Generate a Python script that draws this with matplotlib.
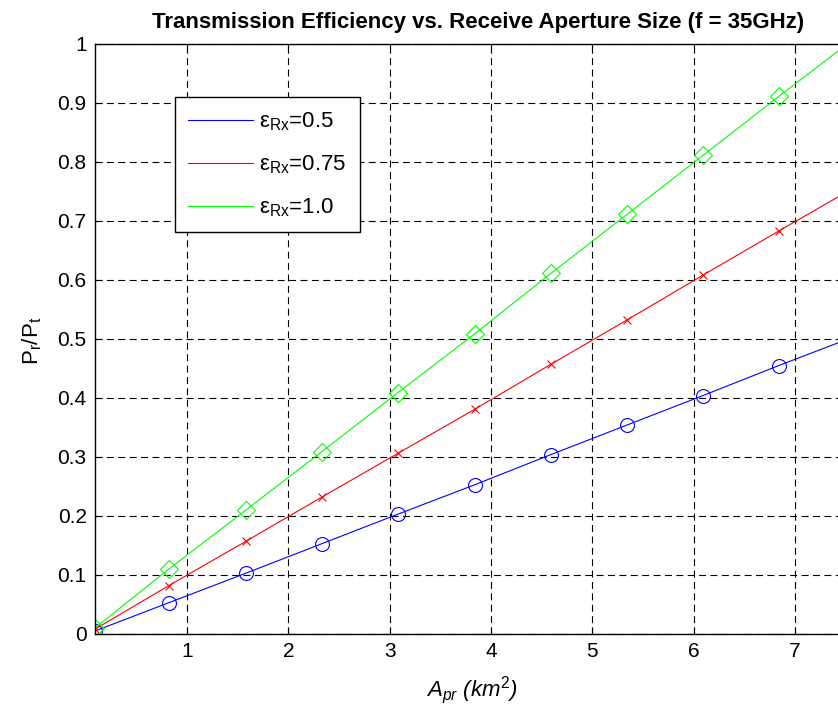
import matplotlib
matplotlib.use('Agg')
import matplotlib.pyplot as plt

plt.rcParams['font.family'] = ['Liberation Sans', 'DejaVu Sans']
plt.rcParams['mathtext.fontset'] = 'custom'
plt.rcParams['mathtext.rm'] = 'Liberation Sans'
plt.rcParams['mathtext.it'] = 'Liberation Sans:italic'
plt.rcParams['lines.scale_dashes'] = False

# aperture size (km^2) at each marker, last point runs off the right edge
area = [0.09, 0.82, 1.58, 2.33, 3.08, 3.84, 4.59, 5.34, 6.09, 6.84, 7.60]
eff_05 = [0.005, 0.053, 0.103, 0.153, 0.203, 0.253, 0.304, 0.354, 0.404, 0.455, 0.505]
eff_075 = [0.008, 0.082, 0.157, 0.232, 0.306, 0.381, 0.457, 0.532, 0.608, 0.683, 0.758]
eff_10 = [0.010, 0.110, 0.210, 0.309, 0.409, 0.509, 0.611, 0.711, 0.811, 0.911, 1.011]
labels = ['\u03b5$_{\\rm Rx}$=0.5', '\u03b5$_{\\rm Rx}$=0.75', '\u03b5$_{\\rm Rx}$=1.0']
yticks = [0, 0.1, 0.2, 0.3, 0.4, 0.5, 0.6, 0.7, 0.8, 0.9, 1]
ytick_labels = ['0', '0.1', '0.2', '0.3', '0.4', '0.5', '0.6', '0.7', '0.8', '0.9', '1']
xticks = [1, 2, 3, 4, 5, 6, 7]

fig = plt.figure(figsize=(8.38, 7.15), dpi=100)
# axes runs past the right edge of the figure (cropped, like the original)
ax = fig.add_axes([0.1134, 0.1133, 0.9562, 0.8252])

series = [(eff_05, 'b', 'o', 10, 'none'), (eff_075, 'r', 'x', 6, 'r'), (eff_10, '#00ff00', 'D', 9, 'none')]
for (vals, col, mk, ms, fc), lab in zip(series, labels):
    ax.plot(area, vals, color=col, lw=0.8, label=lab)
    ax.plot(area, vals, ls='none', marker=mk, ms=ms, mec=col, mfc=fc, mew=0.8)

ax.set_xlim(0.092, 8.0)
ax.set_ylim(0, 1)
ax.set_xticks(xticks)
ax.set_yticks(yticks)
ax.set_yticklabels(ytick_labels)
ax.tick_params(direction='in', length=5, labelsize=15, top=True, width=0.8, pad=6)
ax.grid(True, color='k', ls=(0, (5, 3.2)), lw=0.8)
for s in ax.spines.values():
    s.set_linewidth(1.0)

leg = ax.legend(loc='upper left', bbox_to_anchor=(0.2088, 0.8643), bbox_transform=fig.transFigure,
                borderaxespad=0, fontsize=16, fancybox=False, edgecolor='k', framealpha=1,
                handlelength=2.9, labelspacing=0.92, borderpad=0.6, handletextpad=0.3)
leg.get_frame().set_linewidth(1.0)

fig.text(0.571, 0.969, 'Transmission Efficiency vs. Receive Aperture Size (f = 35GHz)',
         ha='center', va='center', fontsize=16, fontweight='bold')
fig.text(0.563, 0.035, 'A$_{pr}$ (km$^{2}$)', ha='center', va='center', fontsize=16, style='italic')
fig.text(0.038, 0.524, 'P$_{\\rm r}$/P$_{\\rm t}$', ha='center', va='center', fontsize=16, rotation=90)

fig.savefig('out.png', dpi=100)
